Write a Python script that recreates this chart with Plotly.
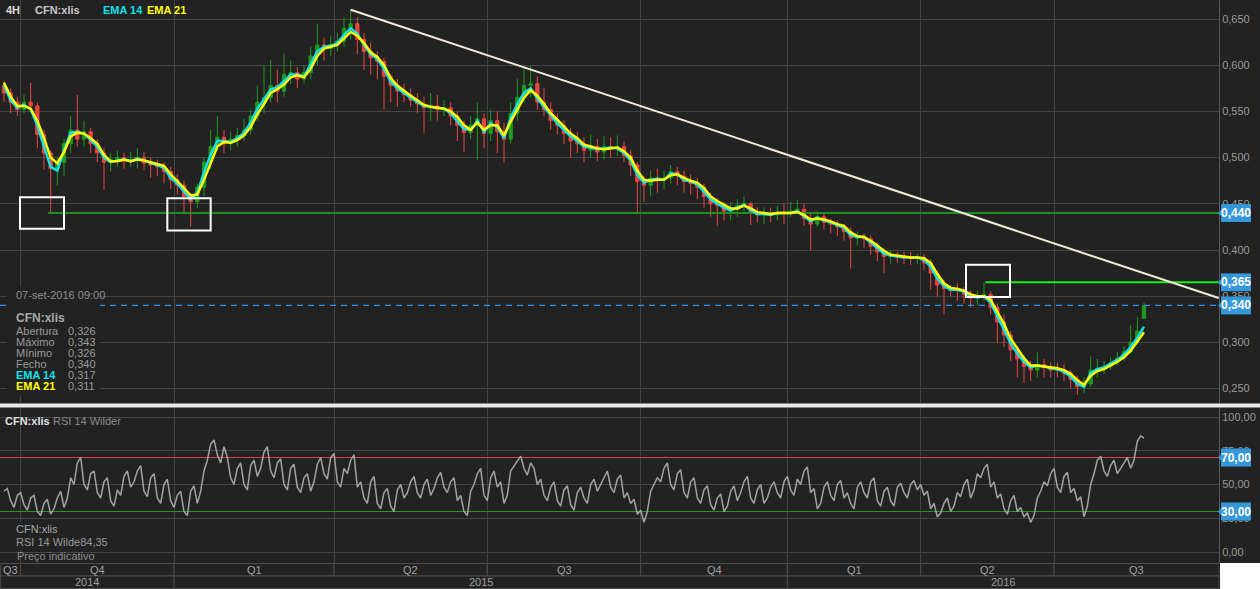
import plotly.graph_objects as go

# ---------------- data (prices in thousandths of EUR, 4H bars aggregated) ----------------
bar_open = [
    578, 570, 560, 552, 560, 556, 525, 505, 488, 495,
    515, 530, 520, 528, 515, 505, 495, 498, 500, 496,
    498, 500, 494, 492, 490, 485, 476, 470, 458, 452,
    468, 495, 512, 522, 515, 520, 524, 530, 545, 560,
    565, 578, 572, 590, 592, 585, 592, 610, 622, 618,
    622, 626, 640, 645, 628, 615, 608, 604, 588, 578,
    572, 568, 562, 558, 554, 556, 552, 554, 545, 535,
    527, 535, 542, 526, 540, 528, 520, 548, 565, 578,
    580, 560, 552, 540, 535, 526, 518, 515, 508, 512,
    506, 512, 510, 512, 502, 492, 474, 470, 478, 476,
    478, 485, 480, 474, 472, 468, 458, 450, 448, 442,
    444, 448, 450, 440, 438, 440, 438, 441, 440, 442,
    444, 434, 428, 436, 430, 428, 425, 420, 413, 414,
    412, 404, 398, 393, 394, 392, 392, 391, 392, 386,
    375, 362, 358, 356, 356, 352, 348, 349, 352, 338,
    322, 308, 292, 282, 274, 270, 276, 273, 270, 270,
    266, 260, 252, 255, 270, 272, 274, 278, 283, 290,
    300, 326]
bar_high = [
    583, 575, 566, 568, 581, 560, 530, 508, 500, 520,
    545, 568, 540, 532, 520, 510, 505, 508, 505, 506,
    510, 506, 500, 498, 495, 490, 482, 475, 462, 472,
    500, 530, 545, 530, 528, 532, 542, 552, 578, 600,
    606, 595, 613, 605, 598, 600, 620, 645, 630, 632,
    635, 652, 660, 652, 635, 625, 615, 608, 590, 585,
    580, 575, 570, 566, 570, 568, 562, 560, 550, 540,
    545, 560, 548, 552, 550, 538, 560, 585, 597, 600,
    588, 575, 560, 548, 540, 532, 528, 522, 525, 520,
    523, 522, 524, 518, 508, 495, 480, 486, 488, 486,
    492, 490, 486, 482, 478, 472, 462, 456, 452, 452,
    455, 458, 452, 446, 446, 446, 448, 450, 452, 454,
    450, 440, 442, 440, 434, 432, 428, 424, 420, 418,
    416, 408, 402, 400, 398, 398, 398, 396, 395, 390,
    378, 368, 362, 364, 360, 356, 356, 365, 355, 342,
    330, 312, 296, 286, 280, 289, 282, 278, 278, 276,
    270, 264, 262, 285, 282, 280, 284, 290, 296, 319,
    327, 343]
bar_low = [
    560, 548, 545, 548, 550, 510, 487, 440, 470, 480,
    505, 512, 512, 505, 495, 465, 485, 490, 488, 490,
    488, 486, 478, 480, 472, 466, 460, 440, 425, 445,
    458, 488, 508, 505, 508, 512, 518, 525, 540, 548,
    560, 560, 566, 580, 575, 580, 585, 600, 605, 610,
    615, 620, 628, 612, 595, 590, 585, 552, 560, 555,
    560, 555, 548, 527, 540, 540, 545, 535, 518, 506,
    520, 497, 510, 518, 505, 494, 515, 540, 560, 565,
    552, 545, 530, 525, 515, 500, 505, 495, 500, 496,
    498, 500, 502, 495, 480, 440, 452, 458, 462, 466,
    472, 470, 462, 460, 455, 446, 436, 426, 432, 432,
    436, 440, 427, 430, 428, 430, 432, 428, 436, 440,
    426, 400, 425, 422, 418, 415, 410, 380, 405, 402,
    395, 388, 375, 385, 386, 385, 384, 385, 378, 357,
    350, 330, 350, 345, 342, 338, 340, 345, 330, 299,
    295, 280, 262, 256, 258, 262, 262, 262, 262, 258,
    250, 243, 245, 252, 262, 266, 270, 275, 280, 288,
    298, 326]
bar_close = [
    570, 560, 552, 560, 556, 525, 505, 488, 495, 515,
    530, 520, 528, 515, 505, 495, 498, 500, 496, 498,
    500, 494, 492, 490, 485, 476, 470, 458, 452, 468,
    495, 512, 522, 515, 520, 524, 530, 545, 560, 565,
    578, 572, 590, 592, 585, 592, 610, 622, 618, 622,
    626, 640, 645, 628, 615, 608, 604, 588, 578, 572,
    568, 562, 558, 554, 556, 552, 554, 545, 535, 527,
    535, 542, 526, 540, 528, 520, 548, 565, 578, 580,
    560, 552, 540, 535, 526, 518, 515, 508, 512, 506,
    512, 510, 512, 502, 492, 474, 470, 478, 476, 478,
    485, 480, 474, 472, 468, 458, 450, 448, 442, 444,
    448, 450, 440, 438, 440, 438, 441, 440, 442, 444,
    434, 428, 436, 430, 428, 425, 420, 413, 414, 412,
    404, 398, 393, 394, 392, 392, 391, 392, 386, 375,
    362, 358, 356, 356, 352, 348, 349, 352, 338, 322,
    308, 292, 282, 274, 270, 276, 273, 270, 270, 266,
    260, 252, 255, 270, 272, 274, 278, 283, 290, 300,
    312, 340]
ema14 = [
    578, 562, 554, 557, 552, 535, 512, 490, 486, 508,
    527, 528, 526, 519, 512, 500, 495, 497, 498, 496,
    499, 497, 494, 492, 489, 478, 472, 463, 455, 462,
    484, 503, 518, 518, 517, 521, 527, 538, 553, 563,
    574, 576, 583, 590, 590, 588, 601, 615, 620, 621,
    624, 633, 640, 634, 622, 612, 607, 596, 582, 575,
    570, 565, 560, 556, 555, 554, 553, 548, 540, 531,
    530, 540, 528, 537, 533, 521, 543, 558, 570, 575,
    564, 555, 545, 537, 530, 523, 518, 512, 511, 509,
    510, 511, 510, 505, 497, 481, 473, 476, 477, 476,
    483, 482, 476, 474, 471, 463, 455, 450, 446, 443,
    446, 449, 443, 439, 439, 438, 440, 440, 440, 442,
    436, 431, 435, 432, 430, 427, 424, 416, 414, 414,
    408, 402, 396, 394, 393, 392, 392, 392, 389, 382,
    369, 361, 357, 357, 355, 350, 349, 350, 343, 328,
    314, 299, 288, 279, 273, 275, 274, 272, 271, 268,
    263, 255, 252, 267, 271, 273, 277, 281, 287, 295,
    305, 317]
ema21 = [
    581, 566, 556, 556, 553, 540, 521, 500, 494, 506,
    523, 527, 526, 521, 515, 503, 496, 496, 498, 496,
    498, 497, 495, 493, 491, 482, 475, 467, 459, 460,
    476, 495, 512, 517, 516, 519, 524, 533, 547, 558,
    570, 574, 579, 587, 589, 587, 596, 610, 618, 620,
    622, 629, 636, 632, 624, 614, 609, 600, 586, 578,
    572, 567, 562, 557, 555, 554, 553, 550, 544, 535,
    530, 538, 530, 535, 535, 524, 539, 552, 565, 573,
    567, 558, 548, 541, 533, 526, 521, 514, 512, 510,
    509, 510, 511, 507, 500, 486, 476, 475, 476, 476,
    481, 482, 478, 475, 473, 467, 458, 453, 449, 445,
    445, 448, 445, 441, 440, 439, 440, 440, 440, 441,
    438, 433, 434, 433, 431, 428, 426, 419, 415, 414,
    410, 405, 399, 395, 394, 393, 392, 392, 391, 386,
    374, 364, 359, 358, 356, 352, 350, 350, 346, 333,
    320, 304, 293, 283, 275, 275, 274, 273, 272, 270,
    266, 259, 254, 264, 269, 271, 275, 279, 284, 291,
    301, 311]
# RSI read at each bar and between consecutive bars
rsi_at_bar = [
    45, 38, 42, 35, 40, 30, 36, 28, 40, 33,
    55, 66, 50, 58, 44, 52, 38, 46, 56, 48,
    60, 45, 55, 40, 50, 38, 42, 30, 45, 36,
    60, 80, 72, 78, 55, 62, 50, 64, 56, 74,
    60, 66, 50, 62, 48, 55, 45, 65, 58, 70,
    52, 62, 68, 48, 40, 52, 36, 44, 34, 46,
    40, 52, 44, 50, 42, 55, 48, 52, 38, 30,
    45, 58, 42, 55, 48, 36, 60, 68, 62, 66,
    50, 42, 48, 38, 46, 35, 44, 40, 50, 45,
    56, 48, 54, 40, 36, 28, 22, 45, 55, 62,
    50, 58, 44, 52, 40, 46, 35, 40, 30, 45,
    38, 52, 40, 46, 36, 48, 44, 52, 46, 54,
    60, 44, 32, 48, 42, 50, 40, 36, 48, 44,
    52, 38, 45, 38, 48, 44, 50, 46, 42, 32,
    26, 36, 30, 44, 50, 40, 58, 62, 48, 40,
    32, 38, 30, 26, 22, 40, 52, 58, 48, 56,
    44, 38, 26, 50, 68, 60, 64, 58, 66, 62,
    82, 84.35]
rsi_between_bars = [
    47, 33, 44, 31, 42, 27, 39, 32, 45, 40,
    50, 70, 46, 60, 40, 55, 34, 42, 60, 52,
    64, 41, 58, 36, 54, 33, 45, 27, 49, 45,
    68, 83, 66, 70, 50, 66, 46, 68, 62, 78,
    55, 69, 46, 65, 44, 58, 52, 70, 54, 73,
    48, 58, 72, 52, 36, 56, 32, 47, 30, 50,
    44, 56, 40, 54, 47, 59, 44, 55, 42, 27,
    50, 62, 38, 60, 52, 42, 64, 71, 57, 62,
    54, 38, 52, 34, 49, 31, 48, 36, 54, 50,
    60, 44, 57, 44, 39, 31, 30, 50, 52, 66,
    46, 61, 40, 55, 36, 49, 31, 43, 34, 49,
    44, 56, 36, 50, 40, 52, 40, 56, 42, 50,
    63, 47, 36, 52, 38, 53, 44, 32, 52, 40,
    55, 34, 48, 34, 51, 40, 53, 50, 45, 36,
    29, 40, 34, 41, 54, 46, 55, 65, 52, 43,
    28, 42, 33, 29, 27, 45, 49, 62, 44, 59,
    47, 41, 34, 58, 71, 56, 68, 62, 70, 68,
    86]

quarter_labels = ["Q3", "Q4", "Q1", "Q2", "Q3", "Q4", "Q1", "Q2", "Q3"]
quarter_first_bar = [0, 3, 26, 50, 73, 96, 118, 138, 158]
year_labels = ["2014", "2015", "2016"]
year_first_bar = [0, 26, 118]

price_ticks = [0.25, 0.30, 0.35, 0.40, 0.45, 0.50, 0.55, 0.60, 0.65]
rsi_ticks = [0, 25, 50, 75, 100]
rsi_levels = [70, 30]

support_levels = [0.440, 0.365]
support_from_bar = [6.6, 147.2]
trend_bars = [52.0, 182.2]
trend_prices = [0.660, 0.348]
box_bar_from = [2.4, 24.5, 144.3]
box_bar_to = [9.0, 31.0, 150.9]
box_price_hi = [0.457, 0.456, 0.384]
box_price_lo = [0.423, 0.421, 0.349]

last_bar_time = "07-set-2016 09:00"

# ---------------- styling ----------------
W, H = 1260, 589
BG = "#222222"
GRID = "#454545"
AXIS = "#5a5a5a"
TXT = "#9a9a9a"
GREEN = "#1f9a1f"
RED = "#e8473d"
CYAN = "#12e0ea"
YELLOW = "#ffff00"
BLUE = "#3498db"
FONT = "Liberation Sans, Arial, sans-serif"
X0, X1 = -0.6, 182.25
PLOT_R = 1219


def fx(p):
    return p / W


def fy(p):
    return 1 - p / H


def fmt(v, d):
    return f"{v:.{d}f}".replace(".", ",")


N = len(bar_close)
bars = list(range(N))
o = [v / 1000 for v in bar_open]
hi = [v / 1000 for v in bar_high]
lo = [v / 1000 for v in bar_low]
cl = [v / 1000 for v in bar_close]
e14 = [v / 1000 for v in ema14]
e21 = [v / 1000 for v in ema21]

rsi_x, rsi_y = [], []
for i, v in enumerate(rsi_at_bar):
    rsi_x.append(i)
    rsi_y.append(v)
    if i < len(rsi_between_bars):
        rsi_x.append(i + 0.5)
        rsi_y.append(rsi_between_bars[i])

fig = go.Figure()
fig.add_trace(go.Candlestick(
    x=bars, open=o, high=hi, low=lo, close=cl, xaxis="x", yaxis="y",
    increasing=dict(line=dict(color=GREEN, width=1), fillcolor=GREEN),
    decreasing=dict(line=dict(color=RED, width=1), fillcolor=RED),
    whiskerwidth=0, hoverinfo="skip"))

# support / resistance lines
sup_colors = ["#1c8f1c", "#19f019"]
for lvl, b0, col in zip(support_levels, support_from_bar, sup_colors):
    fig.add_trace(go.Scatter(x=[b0, X1], y=[lvl, lvl], mode="lines", xaxis="x", yaxis="y",
                             line=dict(color=col, width=2), hoverinfo="skip"))
# trend line
fig.add_trace(go.Scatter(x=trend_bars, y=trend_prices, mode="lines", xaxis="x", yaxis="y",
                         line=dict(color="#f2ecd6", width=2), hoverinfo="skip"))
# last price dashed line
fig.add_trace(go.Scatter(x=[X0, X1], y=[cl[-1], cl[-1]], mode="lines", xaxis="x", yaxis="y",
                         line=dict(color="#2a93f0", width=1.3, dash="6px,5px"), hoverinfo="skip"))
# EMAs
fig.add_trace(go.Scatter(x=bars, y=e14, mode="lines", xaxis="x", yaxis="y",
                         line=dict(color=CYAN, width=2.5), hoverinfo="skip"))
fig.add_trace(go.Scatter(x=bars, y=e21, mode="lines", xaxis="x", yaxis="y",
                         line=dict(color=YELLOW, width=2.5), hoverinfo="skip"))

# RSI pane
for lvl, col in zip(rsi_levels, ["#d8433a", "#1f9a1f"]):
    fig.add_trace(go.Scatter(x=[X0, X1], y=[lvl, lvl], mode="lines", xaxis="x2", yaxis="y2",
                             line=dict(color=col, width=1), hoverinfo="skip"))
fig.add_trace(go.Scatter(x=rsi_x, y=rsi_y, mode="lines", xaxis="x2", yaxis="y2",
                         line=dict(color="#a3a3a3", width=1.5), hoverinfo="skip"))

grid_x = [b - 0.5 for b in quarter_first_bar[1:]]
xcommon = dict(range=[X0, X1], domain=[0, fx(PLOT_R)], showticklabels=False, ticks="",
               tickvals=grid_x, showgrid=True, gridcolor=GRID, gridwidth=1, zeroline=False,
               showline=False, fixedrange=True)
ycommon = dict(side="right", showgrid=True, gridcolor=GRID, gridwidth=1, zeroline=False,
               showline=True, linecolor=AXIS, linewidth=1, ticks="", fixedrange=True,
               tickfont=dict(family=FONT, size=11, color=TXT))

shapes = []
annotations = []

# highlight boxes
for b0, b1, p1, p0 in zip(box_bar_from, box_bar_to, box_price_hi, box_price_lo):
    shapes.append(dict(type="rect", xref="x", yref="y", x0=b0, x1=b1, y0=p0, y1=p1,
                       line=dict(color="#ffffff", width=2), fillcolor="rgba(0,0,0,0)", layer="above"))

# opaque info panels
shapes.append(dict(type="rect", xref="paper", yref="paper", x0=fx(7), x1=fx(100),
                   y0=fy(396), y1=fy(287), line=dict(width=0), fillcolor=BG, layer="above"))
shapes.append(dict(type="rect", xref="paper", yref="paper", x0=fx(8), x1=fx(100),
                   y0=fy(550), y1=fy(522), line=dict(width=0), fillcolor=BG, layer="above"))

# white separator between panes
shapes.append(dict(type="rect", xref="paper", yref="paper", x0=0, x1=1, y0=fy(407.5), y1=fy(403.5),
                   line=dict(width=0), fillcolor="#e9e9e9", layer="above"))
# white corner bottom right
shapes.append(dict(type="rect", xref="paper", yref="paper", x0=fx(PLOT_R + 1), x1=1, y0=0, y1=fy(563),
                   line=dict(width=0), fillcolor="#ffffff", layer="above"))


# date axis cells
def cells(first_bars, labels, ytop, ybot, size):
    bounds = [max(b - 0.5, X0) for b in first_bars] + [X1]
    for i, lab in enumerate(labels):
        a, b = bounds[i], bounds[i + 1]
        shapes.append(dict(type="rect", xref="x", yref="paper", x0=a, x1=b, y0=fy(ybot), y1=fy(ytop),
                           line=dict(color="#4d4d4d", width=1), fillcolor=BG, layer="above"))
        annotations.append(dict(x=(a + b) / 2, y=fy((ytop + ybot) / 2), xref="x", yref="paper",
                                text=lab, showarrow=False, xanchor="center", yanchor="middle",
                                font=dict(family=FONT, size=size, color="#a0a0a0")))


cells(quarter_first_bar, quarter_labels, 563.5, 576, 11)
cells(year_first_bar, year_labels, 576, 588.5, 11)


# badges on the right axis
def badge(val, text, yref, half):
    shapes.append(dict(type="rect", xref="paper", yref=yref, x0=fx(PLOT_R + 2), x1=fx(PLOT_R + 32),
                       y0=val - half, y1=val + half, line=dict(width=0), fillcolor=BLUE, layer="above"))
    shapes.append(dict(type="path", xref="paper", yref=yref,
                       path=f"M {fx(PLOT_R - 1)},{val} L {fx(PLOT_R + 2)},{val - half * 0.35} "
                            f"L {fx(PLOT_R + 2)},{val + half * 0.35} Z",
                       line=dict(width=0), fillcolor=BLUE, layer="above"))
    annotations.append(dict(x=fx(PLOT_R + 17), y=val, xref="paper", yref=yref, text=f"<b>{text}</b>",
                            showarrow=False, xanchor="center", yanchor="middle",
                            font=dict(family=FONT, size=12, color="#ffffff")))


for lvl in support_levels + [cl[-1]]:
    badge(lvl, fmt(lvl, 3), "y", 0.0097)
for lvl in rsi_levels:
    badge(lvl, fmt(lvl, 2), "y2", 6.7)


def txt(x, y, text, color=TXT, size=11, bold=False):
    annotations.append(dict(x=fx(x), y=fy(y), xref="paper", yref="paper",
                            text=f"<b>{text}</b>" if bold else text, showarrow=False,
                            xanchor="left", yanchor="middle",
                            font=dict(family=FONT, size=size, color=color)))


# header
txt(4, 10, "4H", "#dddddd", 11, True)
txt(33, 10, "CFN:xlis", "#c8c8c8", 11, True)
txt(101, 10, "EMA 14", CYAN, 11, True)
txt(145, 10, "EMA 21", YELLOW, 11, True)

# price info panel
txt(14, 295, last_bar_time, "#8e8e8e", 11)
txt(14, 318, "CFN:xlis", "#a8a8a8", 12, True)
rows = [("Abertura", bar_open[-1] / 1000, TXT, False),
        ("Máximo", bar_high[-1] / 1000, TXT, False),
        ("Mínimo", bar_low[-1] / 1000, TXT, False),
        ("Fecho", bar_close[-1] / 1000, TXT, False),
        ("EMA 14", e14[-1], CYAN, True),
        ("EMA 21", e21[-1], YELLOW, True)]
for i, (lab, val, col, b) in enumerate(rows):
    y = 331 + i * 11
    txt(14, y, lab, col, 11, b)
    txt(66, y, fmt(val, 3), TXT, 11)

# RSI header & info
txt(3, 421, "CFN:xlis", "#e0e0e0", 11, True)
txt(51, 421, "RSI 14 Wilder", "#8a8a8a", 11)
txt(14, 529, "CFN:xlis", "#a8a8a8", 11)
txt(14, 542, "RSI 14 Wilde" + fmt(rsi_at_bar[-1], 2), TXT, 11)
txt(15, 556, "Preço indicativo", "#8e8e8e", 11)

fig.update_layout(
    width=W, height=H, margin=dict(l=0, r=0, t=0, b=0, pad=0),
    paper_bgcolor=BG, plot_bgcolor=BG, showlegend=False, hovermode=False,
    template="none",
    xaxis=dict(**xcommon, anchor="y", rangeslider=dict(visible=False)),
    xaxis2=dict(**xcommon, anchor="y2"),
    yaxis=dict(**ycommon, anchor="x", domain=[fy(403), 1], range=[0.2344, 0.6706],
               tickvals=price_ticks, ticktext=[fmt(v, 3) for v in price_ticks]),
    yaxis2=dict(**ycommon, anchor="x2", domain=[fy(563), fy(408)], range=[-8.15, 106.67],
                tickvals=rsi_ticks, ticktext=[fmt(v, 2) for v in rsi_ticks]),
    shapes=shapes, annotations=annotations,
)

fig.write_html("out.html", config={"displayModeBar": False},
               post_script="document.body.style.margin='0';document.body.style.overflow='hidden';")
